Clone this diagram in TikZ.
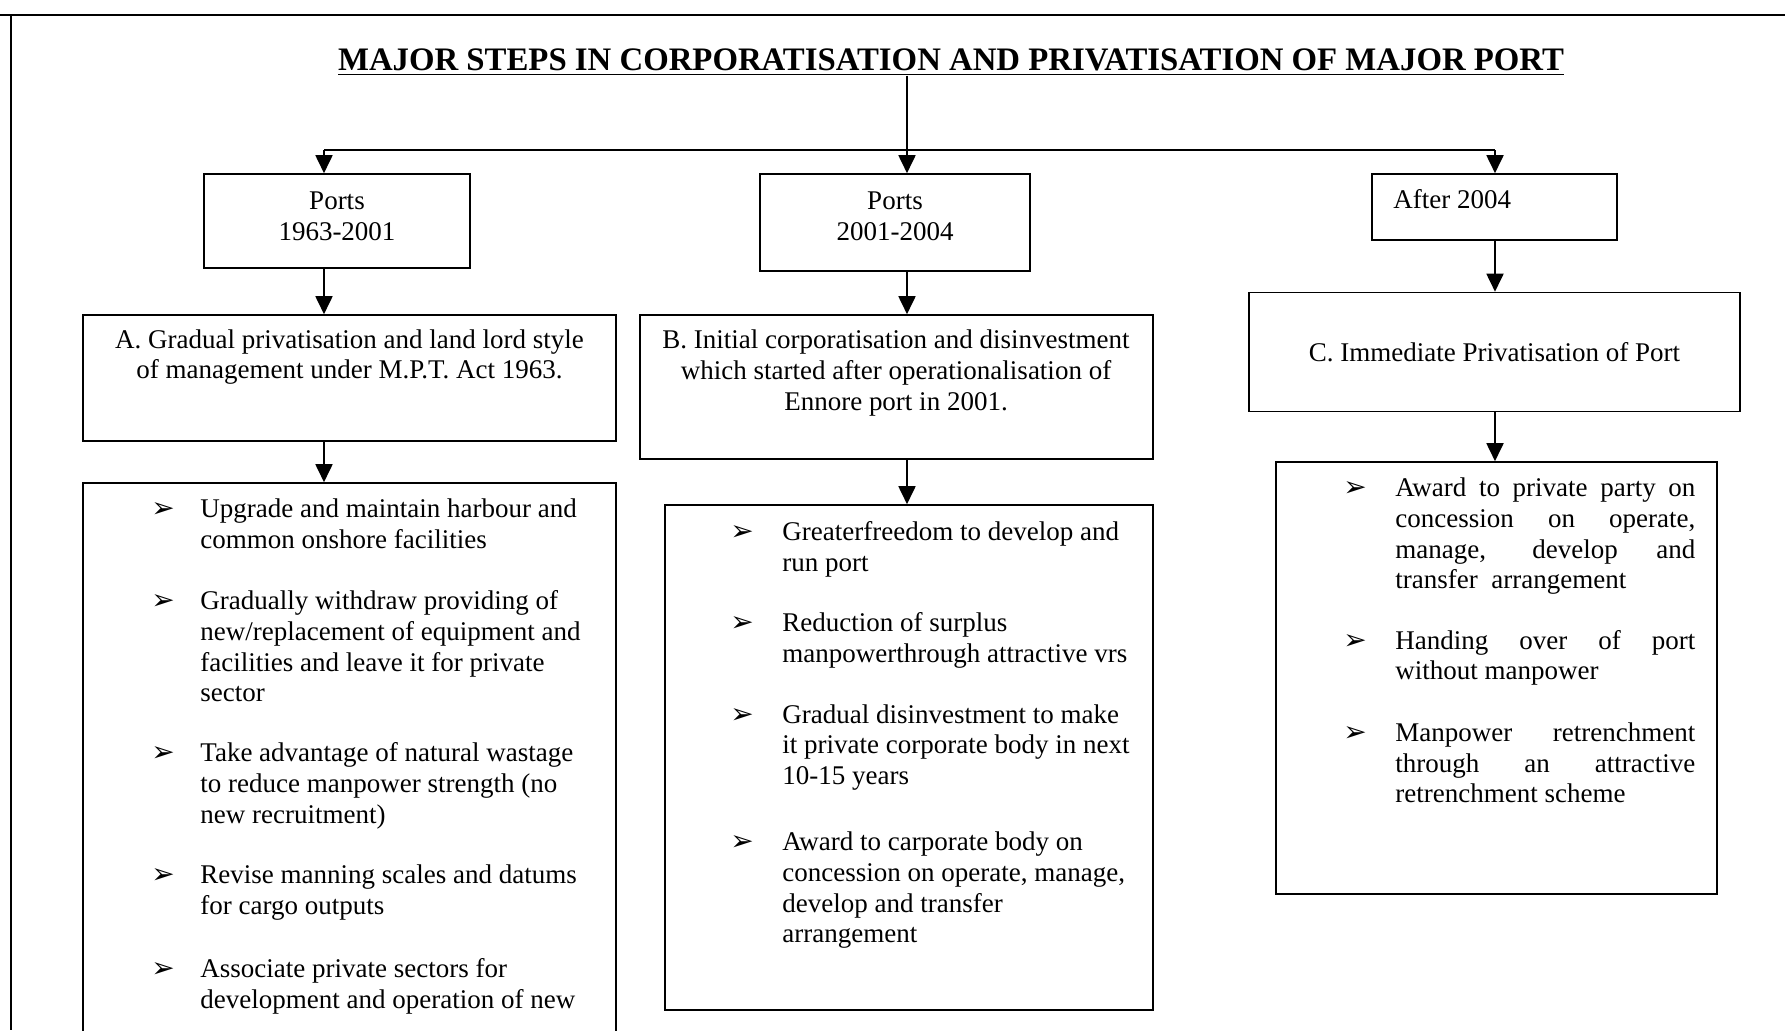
\documentclass[tikz,border=0pt]{standalone}
\usepackage{fontspec}
\setmainfont{Liberation Serif}
\newfontfamily\symfont{DejaVu Sans}
\usetikzlibrary{arrows.meta}

% justified line of the right-hand list
\newcommand{\jline}[1]{\makebox[150pt][s]{#1}}

\tikzset{
  box/.style={draw, line width=0.8pt, inner sep=0pt},
  txt/.style={align=center, inner sep=0pt},
  itm/.style={anchor=base west, align=left, inner sep=0pt, yshift=-1.2pt}, % base = last line
  bul/.style={anchor=base west, inner sep=0pt, yshift=-1.2pt, font=\symfont\fontsize{14}{16}\selectfont},
  arr/.style={line width=0.9pt, -{Triangle[length=9pt,width=8.5pt]}}
}

\begin{document}
\begin{tikzpicture}[x=0.5pt,y=-0.5pt,font=\fontsize{13.5}{15.4}\selectfont] % 1 unit = 1 px

\useasboundingbox (0,0) rectangle (1785,1030);
\clip (0,0) rectangle (1785,1030);

% --------- cadre de page ----------
\draw[line width=1.2pt] (0,15) -- (1785,15);
\draw[line width=1pt] (11,15) -- (11,1030);

% Titre
\node[inner sep=0pt, font=\bfseries\fontsize{16.4}{19}\selectfont] (title) at (951,62)
  {\underline{MAJOR STEPS IN CORPORATISATION AND PRIVATISATION OF MAJOR PORT}};

% Colonnes
\coordinate (cA) at (324,150);
\coordinate (hub) at (907,150);
\coordinate (cC) at (1495,150);

% Boîtes des périodes
\node[box, minimum width=133pt, minimum height=47pt] (p1) at (337,221) {};
\node[box, minimum width=135pt, minimum height=48.5pt] (p2) at (895,222.5) {};
\node[box, minimum width=122.5pt, minimum height=33pt] (p3) at (1494.5,207) {};
\node[txt] (t1) at (337,216) {Ports\\1963-2001};
\node[txt] (t2) at (895,216) {Ports\\2001-2004};
\node[txt, anchor=west] (t3) at (1393,199) {After 2004};

% Boîtes A, B, C
\node[box, minimum width=266.5pt, minimum height=63pt] (bA) at (349.5,378) {};
\node[box, minimum width=256.5pt, minimum height=72pt] (bB) at (896.5,387) {};
\node[box, minimum width=245.5pt, minimum height=59.5pt] (bC) at (1494.5,352)
  {C. Immediate Privatisation of Port};
\node[txt] (tA) at (349.5,357)
  {A. Gradual privatisation and land lord style\\of management under M.P.T. Act 1963.};
\node[txt] (tB) at (896,373)
  {B. Initial corporatisation and disinvestment\\which started after operationalisation of\\Ennore port in 2001.};

% Listes (la boîte de gauche sort de la page)
\node[box, minimum width=266.5pt, minimum height=288.5pt] (lA) at (349.5,771.5) {};
\node[box, minimum width=244pt, minimum height=252.5pt] (lB) at (909,757.5) {};
\node[box, minimum width=220.5pt, minimum height=216pt] (lC) at (1496.5,678) {};

% Puces
\foreach \y [count=\i] in {515,607,759,881,975}
  \node[bul] (ba\i) at (151,\y) {➢};
\foreach \y [count=\i] in {538.5,629.5,720.6,848.1}
  \node[bul] (bb\i) at (730,\y) {➢};
\foreach \y [count=\i] in {494.1,646.6,738.8}
  \node[bul] (bc\i) at (1343,\y) {➢};

% Liste A
\node[itm] (a1) at (200,545.8) {Upgrade and maintain harbour and\\common onshore facilities};
\node[itm] (a2) at (200,699.4) {Gradually withdraw providing of\\new/replacement of equipment and\\facilities and leave it for private\\sector};
\node[itm] (a3) at (200,820.6) {Take advantage of natural wastage\\to reduce manpower strength (no\\new recruitment)};
\node[itm] (a4) at (200,911.8) {Revise manning scales and datums\\for cargo outputs};
\node[itm] (a5) at (200,1005.8) {Associate private sectors for\\development and operation of new};

% Liste B
\node[itm] (b1) at (782,569.3) {Greaterfreedom to develop and\\run port};
\node[itm] (b2) at (782,660.3) {Reduction of surplus\\manpowerthrough attractive vrs};
\node[itm] (b3) at (782,782.2) {Gradual disinvestment to make\\it private corporate body in next\\10-15 years};
\node[itm] (b4) at (782,940.5) {Award to carporate body on\\concession on operate, manage,\\develop and transfer\\arrangement};

% Liste C
\node[itm] (c1) at (1395,586.5) {\jline{Award to private party on}\\\jline{concession on operate,}\\\jline{manage, develop and}\\transfer\ \ arrangement};
\node[itm] (c2) at (1395,677.4) {\jline{Handing over of port}\\without manpower};
\node[itm] (c3) at (1395,800.4) {\jline{Manpower retrenchment}\\\jline{through an attractive}\\retrenchment scheme};

% Flèches
\draw[line width=0.9pt] (title.south -| hub) -- (hub);
\draw[line width=0.9pt] (cA) -- (cC);
\draw[arr] (cA) -- (cA |- p1.north);
\draw[arr] (hub) -- (hub |- p2.north);
\draw[arr] (cC) -- (cC |- p3.north);
\draw[arr] (p1.south -| cA) -- (bA.north -| cA);
\draw[arr] (p2.south -| hub) -- (bB.north -| hub);
\draw[arr] (p3.south -| cC) -- (bC.north -| cC);
\draw[arr] (bA.south -| cA) -- (lA.north -| cA);
\draw[arr] (bB.south -| hub) -- (lB.north -| hub);
\draw[arr] (bC.south -| cC) -- (lC.north -| cC);

\end{tikzpicture}
\end{document}
